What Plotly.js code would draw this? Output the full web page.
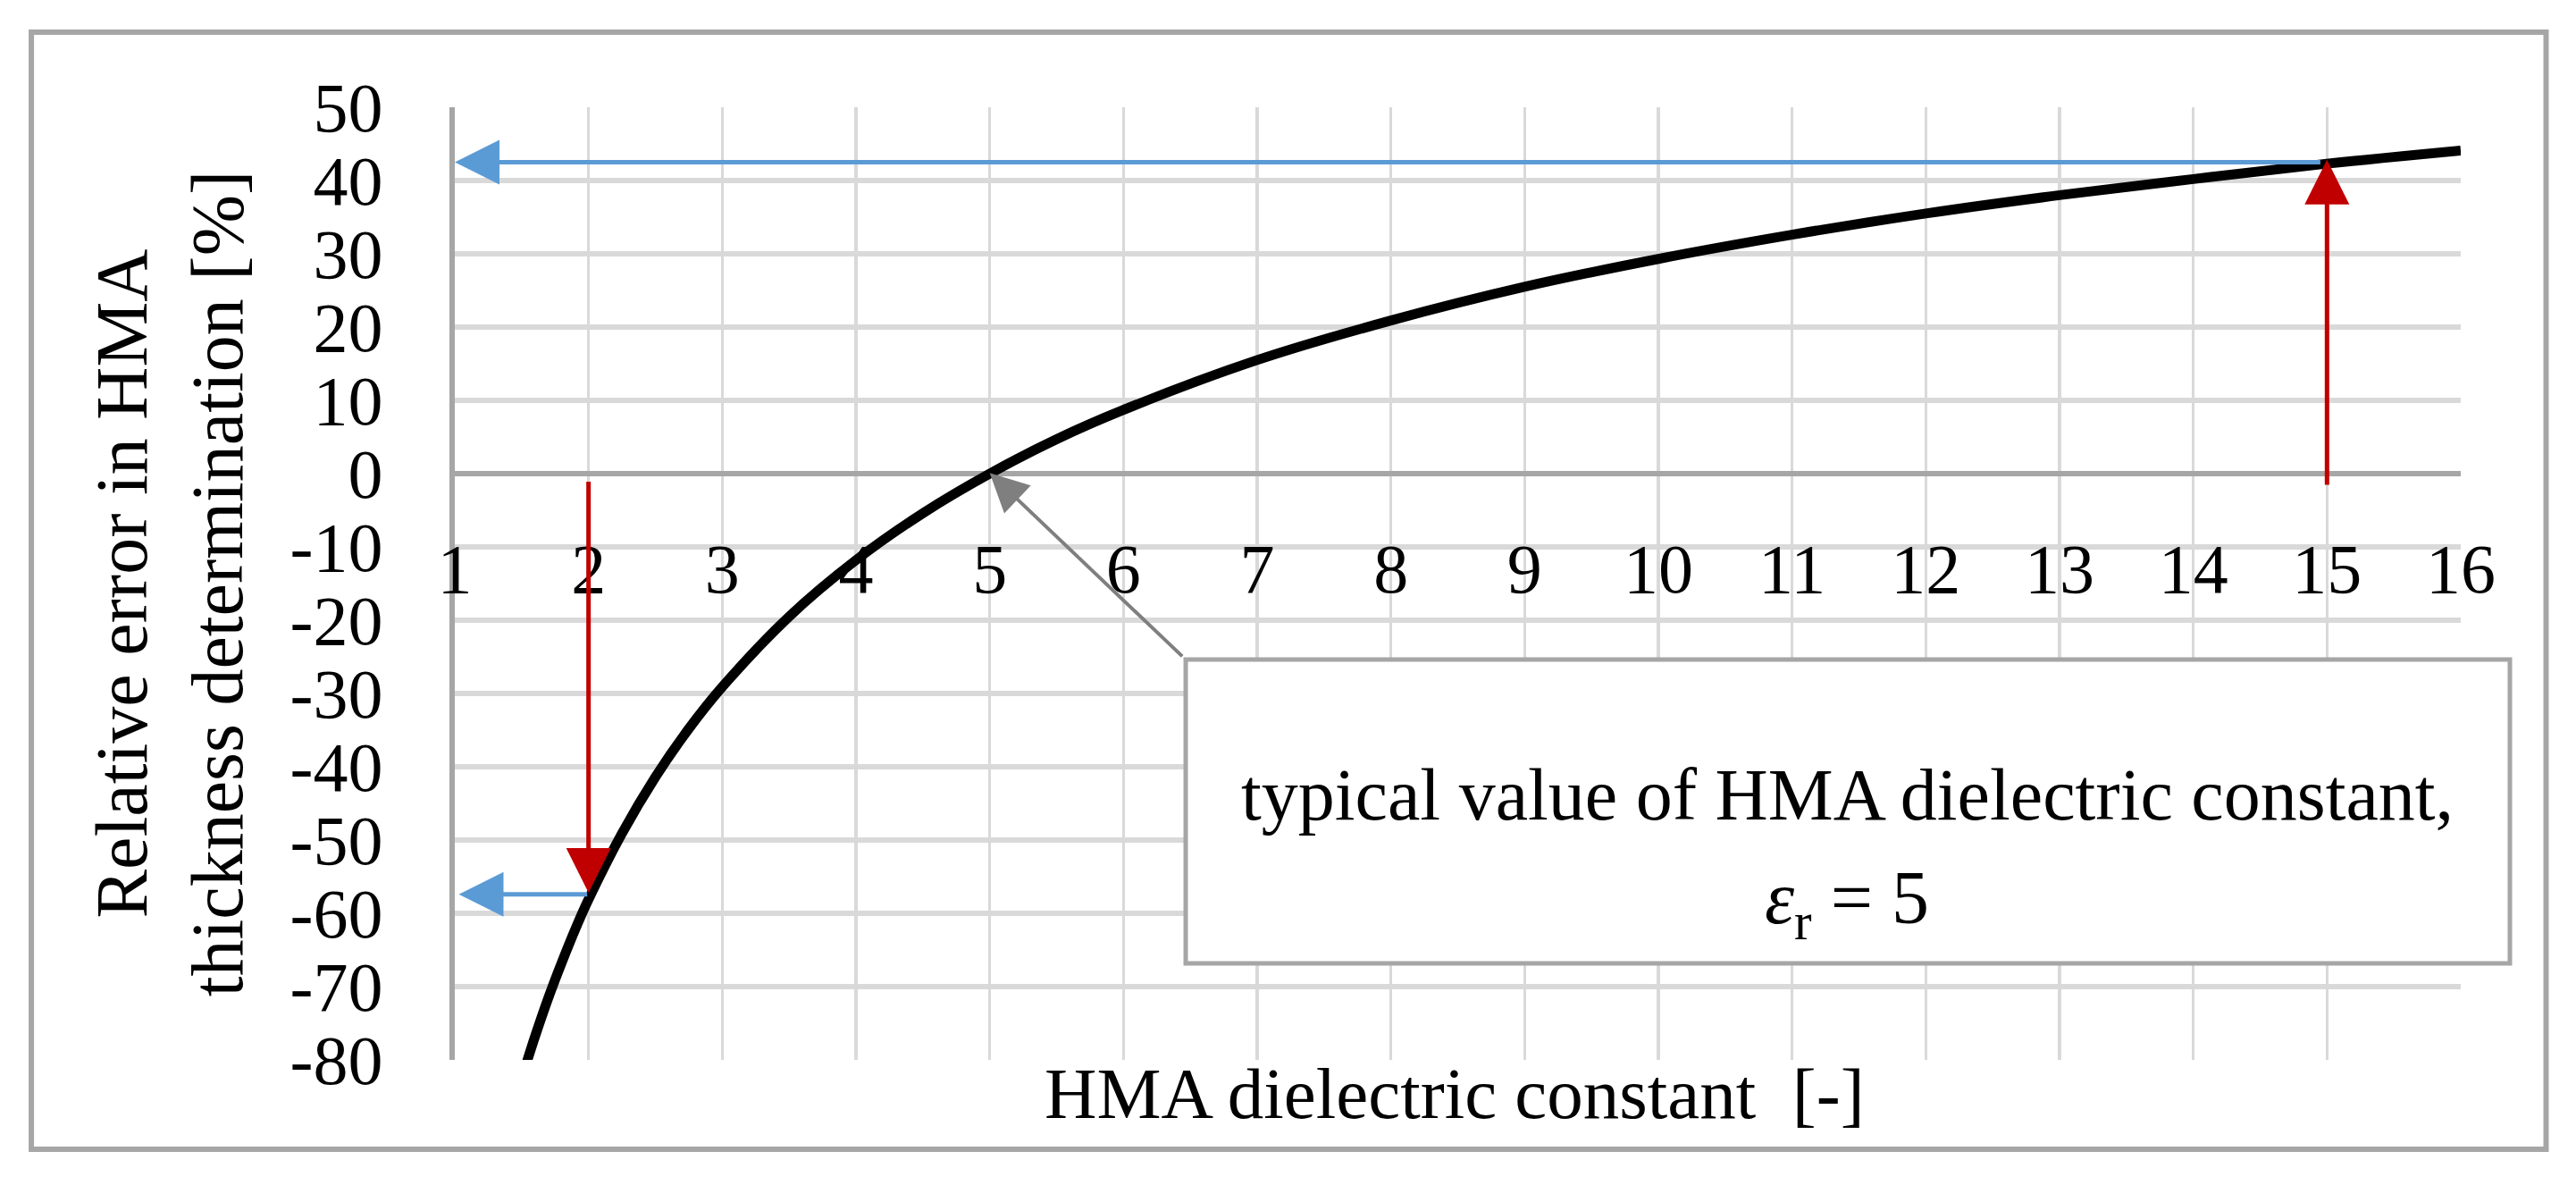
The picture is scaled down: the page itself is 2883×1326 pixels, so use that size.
<!DOCTYPE html>
<html>
<head>
<meta charset="utf-8">
<script src="https://cdn.plot.ly/plotly-3.0.1.min.js"></script>
<style>html,body{margin:0;padding:0;background:#ffffff;}</style>
</head>
<body>
<div id="chart" style="width:2883px;height:1326px;"></div>
<script>
// ---- data ----
const dielectricConstant = [1.53, 1.6, 1.7, 1.8, 1.9, 2, 2.25, 2.5, 2.75, 3, 3.5, 4, 4.5, 5, 5.5, 6, 7, 8, 9, 10, 11, 12, 13, 14, 15, 16];
const relativeError      = [-80.8, -76.8, -71.5, -66.7, -62.2, -58.1, -49.1, -41.4, -34.8, -29.1, -19.5, -11.8, -5.4, 0, 4.7, 8.7, 15.5, 20.9, 25.5, 29.3, 32.6, 35.5, 38.0, 40.2, 42.3, 44.1];

const xTickValues = [1, 2, 3, 4, 5, 6, 7, 8, 9, 10, 11, 12, 13, 14, 15, 16];
const yTickValues = [-80, -70, -60, -50, -40, -30, -20, -10, 0, 10, 20, 30, 40, 50];

// read-off guide arrows: [tail x, tail y, tip x, tip y]
const lowReadVertical   = [2, -0.9, 2, -57.2];
const lowReadHorizontal = [2, -57.4, 1.03, -57.4];
const highReadVertical  = [15, -1.7, 15, 42.85];
const highReadHorizontal= [14.96, 42.5, 1.0, 42.5];
const typicalPoint      = [6.45, -25.1, 5, 0.1];

const xTitle = 'HMA dielectric constant  [-]';
const yTitle = 'Relative error in HMA<br>thickness determination [%]';
const noteLine1 = 'typical value of HMA dielectric constant,';
const noteLine2 = '<i>ε</i><sub>r</sub> = 5';

// ---- styling ----
const FONT = 'Liberation Serif, Times New Roman, serif';
const GRID = '#d9d9d9';
const AXIS = '#a6a6a6';
const BLUE = '#5b9bd5';
const RED = '#c00000';
const CALLOUT = '#7f7f7f';

function arrow(a, color, width, size) {
  return {
    x: a[2], y: a[3], ax: a[0], ay: a[1],
    xref: 'x', yref: 'y', axref: 'x', ayref: 'y',
    text: '', showarrow: true, arrowhead: 2,
    arrowsize: size, arrowwidth: width, arrowcolor: color,
    standoff: 0, startstandoff: 0
  };
}

const trace = {
  x: dielectricConstant,
  y: relativeError,
  type: 'scatter',
  mode: 'lines',
  line: {color: '#000000', width: 11, shape: 'spline', smoothing: 1},
  hoverinfo: 'skip',
  showlegend: false
};

const layout = {
  width: 2883,
  height: 1326,
  autosize: false,
  paper_bgcolor: '#ffffff',
  plot_bgcolor: '#ffffff',
  margin: {l: 509, r: 129, t: 120, b: 140, pad: 0},
  showlegend: false,
  font: {family: FONT, color: '#000000', size: 78},
  xaxis: {
    range: [1, 16],
    tickmode: 'array',
    tickvals: xTickValues,
    ticktext: xTickValues.map(String),
    showgrid: true, gridcolor: GRID, gridwidth: 3.5,
    zeroline: false,
    showline: false,
    anchor: 'free',
    position: 80 / 130,
    ticks: 'outside', ticklen: 38, tickcolor: 'rgba(0,0,0,0)',
    tickfont: {family: FONT, size: 78, color: '#000000'},
    fixedrange: true
  },
  yaxis: {
    range: [-80, 50],
    tickmode: 'array',
    tickvals: yTickValues,
    ticktext: yTickValues.map(String),
    showgrid: true, gridcolor: GRID, gridwidth: 6,
    zeroline: true, zerolinecolor: AXIS, zerolinewidth: 6,
    showline: true, linecolor: AXIS, linewidth: 6,
    ticks: 'outside', ticklen: 59, tickcolor: 'rgba(0,0,0,0)',
    tickfont: {family: FONT, size: 78, color: '#000000'},
    title: {text: yTitle, font: {family: FONT, size: 82, color: '#000000'}, standoff: 28},
    fixedrange: true
  },
  shapes: [
    {type: 'rect', xref: 'paper', yref: 'paper', x0: -0.2111, x1: 1.04254, y0: -0.09381, y1: 1.0788,
     line: {color: AXIS, width: 6}, fillcolor: 'rgba(0,0,0,0)', layer: 'below'},
    {type: 'rect', xref: 'paper', yref: 'paper', x0: 0.36437, x1: 1.0245, y0: 0.10131, y1: 0.42026,
     line: {color: AXIS, width: 5}, fillcolor: '#ffffff', layer: 'above'}
  ],
  annotations: [
    {xref: 'paper', yref: 'paper', x: 0.49844, y: -0.0356, xanchor: 'center', yanchor: 'middle',
     text: xTitle, showarrow: false, font: {family: FONT, size: 81, color: '#000000'}},
    {xref: 'paper', yref: 'paper', x: 0.69399, y: 0.278, xanchor: 'center', yanchor: 'middle',
     text: noteLine1, showarrow: false, font: {family: FONT, size: 82, color: '#000000'}},
    {xref: 'paper', yref: 'paper', x: 0.69399, y: 0.164, xanchor: 'center', yanchor: 'middle',
     text: noteLine2, showarrow: false, font: {family: FONT, size: 84, color: '#000000'}},
    arrow(highReadHorizontal, BLUE, 5, 2),
    arrow(lowReadHorizontal, BLUE, 5, 2),
    arrow(lowReadVertical, RED, 5, 2),
    arrow(highReadVertical, RED, 5, 2),
    arrow(typicalPoint, CALLOUT, 4, 2.15)
  ]
};

Plotly.newPlot('chart', [trace], layout, {displayModeBar: false, staticPlot: true});
</script>
</body>
</html>
